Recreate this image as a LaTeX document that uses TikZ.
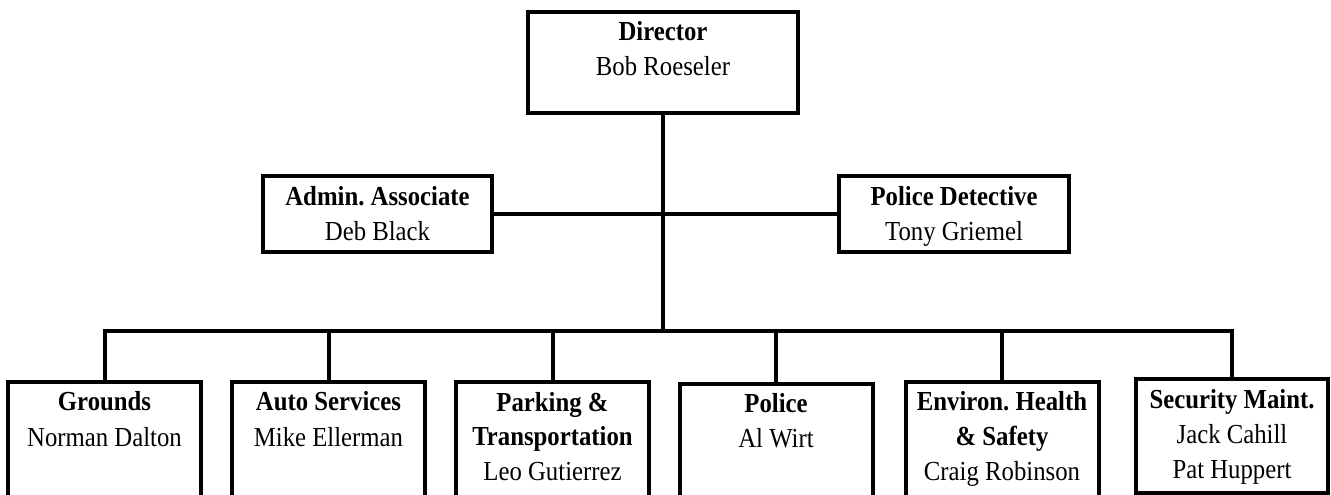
\documentclass[tikz,border=0pt]{standalone}
\usepackage{fontspec}
\setmainfont{Liberation Serif}[FakeStretch=0.9]
\frenchspacing
\begin{document}
\begin{tikzpicture}[x=1pt,y=-1pt,
  box/.style={draw,line width=4pt,inner sep=0pt,outer sep=0pt},
  bbox/.style={box,minimum width=193pt,minimum height=148pt},
  lbl/.style={anchor=base,inner sep=0pt,font=\fontsize{27.5}{30}\selectfont},
  blbl/.style={lbl,font=\fontsize{27.5}{30}\selectfont\bfseries},
  conn/.style={line width=4pt}]
\useasboundingbox (0,0) rectangle (1331,495);
\clip (0,0) rectangle (1331,495);
% top
\node[box,minimum width=270pt,minimum height=101pt] (dir) at (663,62.5) {};
\node[blbl] (dirA) at (663,41) {Director};
\node[lbl] (dirB) at (663,75) {Bob Roeseler};
% middle
\node[box,minimum width=229pt,minimum height=76pt] (adm) at (377.5,214) {};
\node[blbl] (admA) at (377.5,205) {Admin. Associate};
\node[lbl] (admB) at (377.5,240) {Deb Black};
\node[box,minimum width=230pt,minimum height=76pt] (det) at (954,214) {};
\node[blbl] (detA) at (954,205) {Police Detective};
\node[lbl] (detB) at (954,240) {Tony Griemel};
% bottom
\node[bbox] (gr) at (104.5,456) {};
\node[blbl] (grA) at (104.5,410) {Grounds};
\node[lbl] (grB) at (104.5,446) {Norman Dalton};
\node[bbox] (au) at (328.5,456) {};
\node[blbl] (auA) at (328.5,410) {Auto Services};
\node[lbl] (auB) at (328.5,446) {Mike Ellerman};
\node[bbox] (pk) at (552.5,456) {};
\node[blbl] (pkA) at (552.5,411) {Parking \&};
\node[blbl] (pkB) at (552.5,445) {Transportation};
\node[lbl] (pkC) at (552.5,480) {Leo Gutierrez};
\node[bbox] (po) at (776,458) {};
\node[blbl] (poA) at (776,412) {Police};
\node[lbl] (poB) at (776,447) {Al Wirt};
\node[bbox] (en) at (1002,456) {};
\node[blbl] (enA) at (1002,410) {Environ. Health};
\node[blbl] (enB) at (1002,445) {\& Safety};
\node[lbl] (enC) at (1002,480) {Craig Robinson};
\node[box,minimum width=192pt,minimum height=114pt] (se) at (1232,436) {};
\node[blbl] (seA) at (1232,408) {Security Maint.};
\node[lbl] (seB) at (1232,443) {Jack Cahill};
\node[lbl] (seC) at (1232,478) {Pat Huppert};
% connectors
\coordinate (bus) at (664,331);
\draw[conn] (dir.south) -- (dir.south |- bus);
\draw[conn] (adm.east) -- (det.west);
\draw[conn] (gr.north) -- (gr.north |- bus) -- (se.north |- bus) -- (se.north);
\foreach \n in {au,pk,po,en}
  \draw[conn] (\n.north) -- (\n.north |- bus);
\end{tikzpicture}
\end{document}
